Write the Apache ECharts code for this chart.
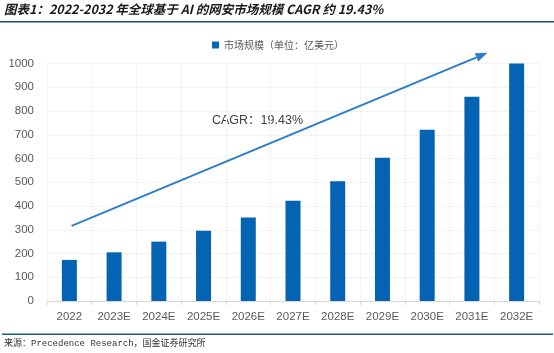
<!DOCTYPE html>
<html>
<head>
<meta charset="utf-8">
<script src="https://cdn.jsdelivr.net/npm/echarts@6/dist/echarts.min.js"></script>
<style>
html,body{margin:0;padding:0;background:#fff;}
#main{width:554px;height:353px;}
</style>
</head>
<body>
<div id="main"></div>
<script>
var years = ['2022','2023E','2024E','2025E','2026E','2027E','2028E','2029E','2030E','2031E','2032E'];
var marketSize = [173, 205, 250, 296, 352, 422, 504, 603, 721, 860, 1000];
var seriesName = '市场规模（单位：亿美元）';
var titleText = '图表1：2022-2032 年全球基于 AI 的网安市场规模 CAGR 约 19.43%';
var sourceText = '来源：Precedence Research，国金证券研究所';
var cagrText = 'CAGR：19.43%';
// arrow: start near first bar (value ~316), ends between 2030E and 2031E (~1045)
var arrowFrom = [0.05, 316];
var arrowTo = [9.35, 1045];

var app = echarts.init(document.getElementById('main'));

var option = {
  animation: false,
  backgroundColor: '#fff',
  grid: {left: 47, right: 15, top: 63.5, bottom: 52},
  legend: {
    data: [seriesName],
    top: 35, left: 207,
    itemWidth: 7, itemHeight: 7, itemGap: 4,
    icon: 'rect',
    textStyle: {fontSize: 10, color: '#595959', fontFamily: 'Noto Sans CJK SC'}
  },
  xAxis: {
    type: 'category',
    data: years,
    axisLine: {lineStyle: {color: '#d9d9d9'}},
    axisTick: {show: true, length: 4, lineStyle: {color: '#d9d9d9'}},
    axisLabel: {color: '#595959', fontSize: 11.5, margin: 10, fontFamily: 'Liberation Sans'},
    splitLine: {show: true, lineStyle: {color: '#f5f5f5'}}
  },
  yAxis: {
    type: 'value',
    min: 0, max: 1000, interval: 100,
    axisLine: {show: false},
    axisTick: {show: false},
    axisLabel: {color: '#595959', fontSize: 11.5, margin: 13, fontFamily: 'Liberation Sans',
                formatter: function (v) { return String(v); }},
    splitLine: {lineStyle: {color: '#f3f3f3'}}
  },
  series: [{
    name: seriesName,
    type: 'bar',
    data: marketSize,
    barWidth: 15,
    itemStyle: {color: '#0563b4'}
  }],
  graphic: [
    {type: 'text', left: 4, top: 3,
     style: {text: titleText, fontSize: 12.5, fontWeight: 'bold', fontStyle: 'italic',
             fill: '#1a1a1a', fontFamily: 'Noto Sans CJK SC'}},
    {type: 'rect', shape: {x: 0, y: 21, width: 554, height: 1.5}, style: {fill: '#1f4e79'}},
    {type: 'rect', shape: {x: 2, y: 333.5, width: 551, height: 1.5}, style: {fill: '#1f5a85'}},
    {type: 'text', left: 4, top: 339,
     style: {text: sourceText, fontSize: 9, fill: '#333', fontFamily: 'Liberation Mono, Noto Sans CJK SC'}},
    {type: 'text', left: 212, top: 114,
     style: {text: cagrText, fontSize: 12.5, fill: '#404040', fontFamily: 'Liberation Sans, Noto Sans CJK SC'}}
  ]
};

app.setOption(option);

function catPx(idx, val) {
  var i0 = Math.floor(idx), f = idx - i0;
  var p0 = app.convertToPixel({gridIndex: 0}, [i0, val]);
  var p1 = app.convertToPixel({gridIndex: 0}, [i0 + 1, val]);
  return [p0[0] + (p1[0] - p0[0]) * f, p0[1]];
}

var a = catPx(arrowFrom[0], arrowFrom[1]);
var b = catPx(arrowTo[0], arrowTo[1]);
var ang = Math.atan2(b[1] - a[1], b[0] - a[0]);
var hl = 12, hw = 4.5;
var base = [b[0] - hl * Math.cos(ang), b[1] - hl * Math.sin(ang)];
var nx = -Math.sin(ang), ny = Math.cos(ang);

app.setOption({
  graphic: option.graphic.concat([
    {type: 'line', z: 100, shape: {x1: a[0], y1: a[1], x2: base[0], y2: base[1]},
     style: {stroke: '#2e7ccc', lineWidth: 2}},
    {type: 'polygon', z: 100, shape: {points: [b, [base[0] + nx * hw, base[1] + ny * hw], [base[0] - nx * hw, base[1] - ny * hw]]},
     style: {fill: '#2e7ccc'}}
  ])
});
</script>
</body>
</html>
